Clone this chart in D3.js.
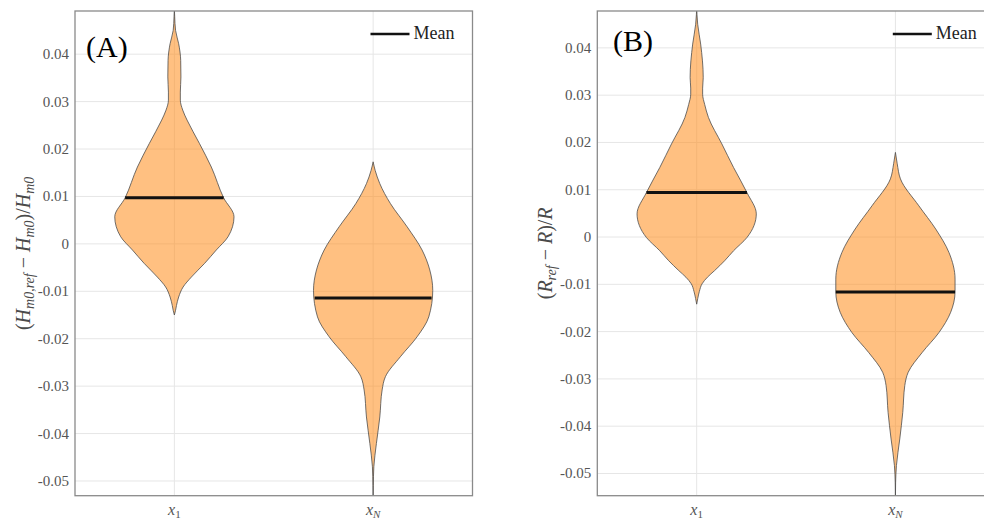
<!DOCTYPE html>
<html>
 <head>
  <meta charset="utf-8">
  <title>Violin plots, relative errors</title>
  <script src="https://cdnjs.cloudflare.com/ajax/libs/d3/7.8.5/d3.min.js"></script>
  <style>
    body { margin: 0; background: #fff; }
  </style>
 </head>
 <body>
  <script>
    // categories on the x axis
    var categories = [1, 2];
    var categoryBase = ["x", "x"];
    var categorySub = ["1", "N"];
    var yTicks = [0.04, 0.03, 0.02, 0.01, 0, -0.01, -0.02, -0.03, -0.04, -0.05];

    // panel A : (Hm0,ref - Hm0)/Hm0, kde profile (value, relative density)
    var hmX1Values  = [0.0495, 0.048, 0.045, 0.0422, 0.0387, 0.0352, 0.0320, 0.0303, 0.0282, 0.0261, 0.0212, 0.0162, 0.0097, 0.0057, 0.0015, -0.0013, -0.0041, -0.0070, -0.0091, -0.0112, -0.0130, -0.0140, -0.0150];
    var hmX1Density = [0, 0.005, 0.020, 0.072, 0.106, 0.110, 0.100, 0.100, 0.140, 0.213, 0.419, 0.620, 0.826, 1.0, 0.90, 0.703, 0.508, 0.285, 0.146, 0.072, 0.035, 0.020, 0];
    var hmXNValues  = [0.0173, 0.0155, 0.0127, 0.0085, 0.0036, -0.0013, -0.0055, -0.0098, -0.0154, -0.0196, -0.0238, -0.0280, -0.0308, -0.0365, -0.0421, -0.0470, -0.0510, -0.0540];
    var hmXNDensity = [0, 0.034, 0.112, 0.290, 0.570, 0.821, 0.950, 1.0, 0.933, 0.737, 0.457, 0.206, 0.151, 0.112, 0.055, 0.012, 0.003, 0];
    var hmMeans = [0.0097, -0.0114];
    var hmRange = [-0.0531, 0.0491];

    // panel B : (Rref - R)/R
    var rX1Values  = [0.0485, 0.0470, 0.0450, 0.0408, 0.0337, 0.0315, 0.0302, 0.0280, 0.0253, 0.0197, 0.0147, 0.0094, 0.0049, -0.0001, -0.0029, -0.0050, -0.0071, -0.0085, -0.0099, -0.0115, -0.0130, -0.0142];
    var rX1Density = [0, 0.005, 0.017, 0.067, 0.110, 0.100, 0.100, 0.135, 0.197, 0.422, 0.619, 0.843, 1.0, 0.843, 0.619, 0.470, 0.300, 0.180, 0.090, 0.045, 0.018, 0];
    var rXNValues  = [0.0179, 0.0155, 0.0123, 0.0066, 0.0017, -0.0033, -0.0089, -0.0116, -0.0159, -0.0202, -0.0244, -0.0286, -0.0314, -0.0371, -0.0427, -0.0483, -0.0520, -0.0555];
    var rXNDensity = [0, 0.030, 0.084, 0.393, 0.675, 0.899, 1.0, 1.0, 0.927, 0.730, 0.450, 0.214, 0.157, 0.123, 0.073, 0.017, 0.003, 0];
    var rMeans = [0.0094, -0.0116];
    var rRange = [-0.0547, 0.0478];

    var W = 984, H = 521;
    var halfWidth = 0.3;   // max violin half width, in x units
    var serif = "'Liberation Serif', 'Times New Roman', serif";

    var svg = d3.select("body").append("svg")
                .attr("width", W)
                .attr("height", H)
                .attr("font-family", serif);

    function drawPanel(p) {
      var x = d3.scaleLinear().domain([0.5, 2.5]).range([p.left, p.left + p.width]);
      var y = d3.scaleLinear().domain(p.range).range([p.top + p.height, p.top]);
      var g = svg.append("g");

      g.append("clipPath").attr("id", p.id + "clip")
       .append("rect")
       .attr("x", p.left).attr("y", p.top)
       .attr("width", p.width).attr("height", p.height);

      // grid
      g.selectAll(".hgrid").data(yTicks).enter().append("line")
       .attr("x1", p.left).attr("x2", p.left + p.width)
       .attr("y1", function(d) { return y(d); })
       .attr("y2", function(d) { return y(d); })
       .attr("stroke", "#e6e6e6").attr("stroke-width", 1);
      g.selectAll(".vgrid").data(categories).enter().append("line")
       .attr("x1", function(d) { return x(d); })
       .attr("x2", function(d) { return x(d); })
       .attr("y1", p.top).attr("y2", p.top + p.height)
       .attr("stroke", "#e6e6e6").attr("stroke-width", 1);

      // violins
      var plot = g.append("g").attr("clip-path", "url(#" + p.id + "clip)");
      p.violins.forEach(function(v, i) {
        var c = categories[i];
        var pts = v.values.map(function(val, j) { return [val, v.density[j]]; });
        var area = d3.area()
          .y(function(d) { return y(d[0]); })
          .x0(function(d) { return x(c - halfWidth * d[1]); })
          .x1(function(d) { return x(c + halfWidth * d[1]); })
          .curve(d3.curveMonotoneY);
        plot.append("path")
            .attr("d", area(pts))
            .attr("fill", "#ff8c1a")
            .attr("fill-opacity", 0.55)
            .attr("stroke", "#4d4d4d")
            .attr("stroke-width", 0.8);

        var dens = d3.scaleLinear().domain(v.values).range(v.density);
        var m = p.means[i];
        var w = dens(m);
        plot.append("line")
            .attr("x1", x(c - halfWidth * w)).attr("x2", x(c + halfWidth * w))
            .attr("y1", y(m)).attr("y2", y(m))
            .attr("stroke", "#111").attr("stroke-width", 3);
      });

      // frame
      g.append("rect")
       .attr("x", p.left).attr("y", p.top)
       .attr("width", p.width).attr("height", p.height)
       .attr("fill", "none").attr("stroke", "#8a8a8a").attr("stroke-width", 1.3);

      // y tick labels
      g.selectAll(".ytl").data(yTicks).enter().append("text")
       .attr("x", p.left - 6)
       .attr("y", function(d) { return y(d); })
       .attr("dy", "0.33em")
       .attr("text-anchor", "end")
       .attr("font-size", 15)
       .attr("fill", "#555")
       .text(function(d) { return d === 0 ? "0" : d.toFixed(2); });

      // x tick labels
      var xt = g.selectAll(".xtl").data(categories).enter().append("text")
       .attr("x", function(d) { return x(d); })
       .attr("y", 515)
       .attr("text-anchor", "middle")
       .attr("font-size", 16)
       .attr("fill", "#555");
      xt.append("tspan").attr("font-style", "italic")
        .text(function(d, i) { return categoryBase[i]; });
      xt.append("tspan").attr("dy", 3).attr("font-size", 11)
        .attr("font-style", function(d, i) { return i === 1 ? "italic" : "normal"; })
        .text(function(d, i) { return categorySub[i]; });

      // y axis label
      var yl = g.append("text")
       .attr("transform", "translate(" + (p.left - 45) + "," + (p.top + p.height / 2) + ") rotate(-90)")
       .attr("text-anchor", "middle")
       .attr("font-size", 20)
       .attr("fill", "#4a4a4a");
      p.ylabel.forEach(function(s) {
        var t = yl.append("tspan").text(s[0]);
        if (s[1] === "i") t.attr("font-style", "italic");
        if (s[2]) t.attr("dy", s[2]);
        if (s[3]) t.attr("font-size", s[3]);
      });

      // panel letter
      g.append("text")
       .attr("x", p.left + p.letterDx).attr("y", p.letterY)
       .attr("font-size", 30)
       .attr("fill", "#000")
       .text(p.letter);

      // legend
      var lx = p.left + p.width - 102;
      g.append("line")
       .attr("x1", lx).attr("x2", lx + 39)
       .attr("y1", 34).attr("y2", 34)
       .attr("stroke", "#111").attr("stroke-width", 2.5);
      g.append("text")
       .attr("x", lx + 43).attr("y", 39)
       .attr("font-size", 18)
       .attr("fill", "#222")
       .text("Mean");
    }

    drawPanel({
      id: "a", left: 75, top: 11, width: 397.5, height: 484.7,
      range: hmRange, means: hmMeans,
      violins: [{values: hmX1Values, density: hmX1Density},
                {values: hmXNValues, density: hmXNDensity}],
      letter: "(A)", letterDx: 11, letterY: 57,
      ylabel: [["(", "n"], ["H", "i"], ["m0,ref", "i", 4, 14], [" \u2212 ", "n", -4, 20],
               ["H", "i"], ["m0", "i", 4, 14], [")/", "n", -4, 20], ["H", "i"], ["m0", "i", 4, 14]]
    });

    drawPanel({
      id: "b", left: 597.3, top: 11, width: 397.5, height: 484.7,
      range: rRange, means: rMeans,
      violins: [{values: rX1Values, density: rX1Density},
                {values: rXNValues, density: rXNDensity}],
      letter: "(B)", letterDx: 15.7, letterY: 51,
      ylabel: [["(", "n"], ["R", "i"], ["ref", "i", 4, 14], [" \u2212 ", "n", -4, 20],
               ["R", "i"], [")/", "n"], ["R", "i"]]
    });
  </script>
 </body>
</html>
